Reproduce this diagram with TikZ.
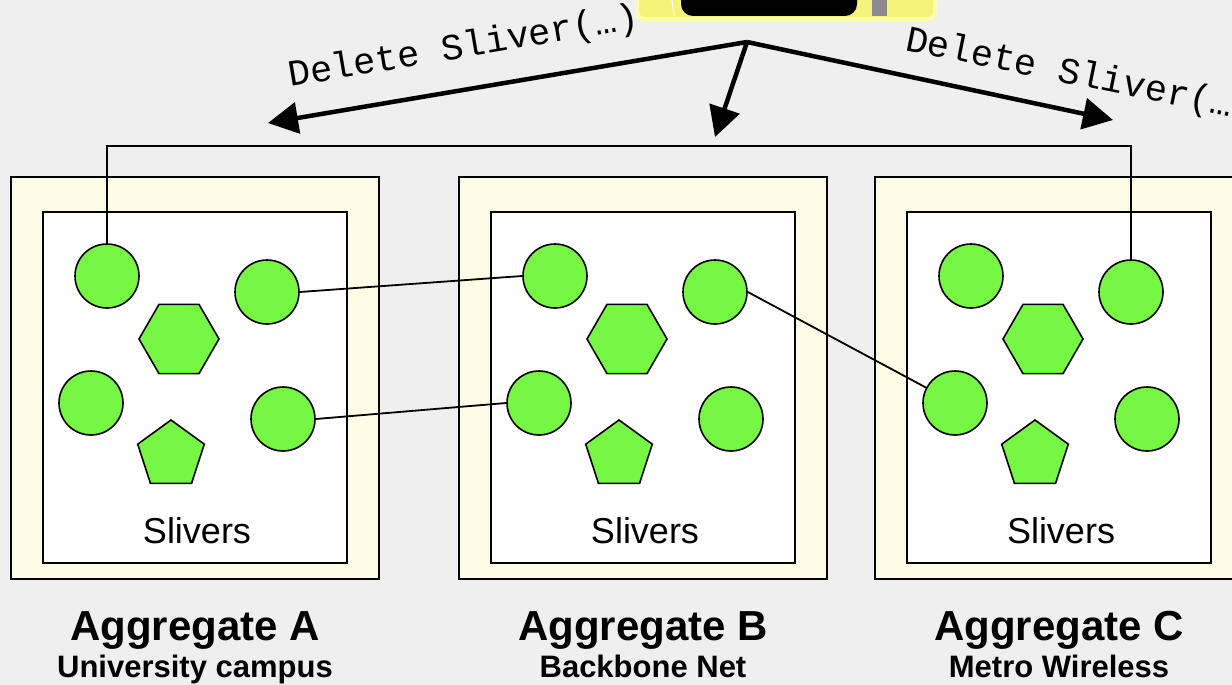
\documentclass[tikz,border=0pt]{standalone}
\usepackage{fontspec}
\setmainfont{Liberation Sans}
\newfontfamily\codefont{Liberation Mono}
\usetikzlibrary{shapes.geometric,arrows.meta}
\definecolor{slivergreen}{RGB}{118,247,67}
\definecolor{aggcream}{RGB}{255,252,229}
\definecolor{backdrop}{RGB}{239,239,239}
\definecolor{amyellow}{RGB}{245,243,122}
\definecolor{amrim}{RGB}{250,250,185}
\begin{document}
\begin{tikzpicture}[x=1pt,y=-1pt,
  sliver/.style={circle,draw,line width=1.6pt,fill=slivergreen,inner sep=0pt,minimum size=64pt},
  hexsliver/.style={regular polygon,regular polygon sides=6,draw,line width=1.6pt,fill=slivergreen,inner sep=0pt,minimum size=80pt},
  pentsliver/.style={regular polygon,regular polygon sides=5,draw,line width=1.6pt,fill=slivergreen,inner sep=0pt,minimum size=70pt},
  aggbox/.style={draw,line width=2pt,fill=aggcream,minimum width=368pt,minimum height=402pt,inner sep=0pt},
  sliverbox/.style={draw,line width=2pt,fill=white,minimum width=304pt,minimum height=351pt,inner sep=0pt},
  call/.style={line width=4.5pt,-{Triangle[length=30pt,width=31pt]}},
  calltext/.style={font=\codefont\fontsize{37}{37}\selectfont,anchor=base west,inner sep=0pt},
  link/.style={line width=1.8pt}]
  \useasboundingbox (0,0) rectangle (1232,685);
  \clip (0,0) rectangle (1232,685);
  \fill[backdrop] (0,0) rectangle (1232,685);
  % aggregate manager, cut off at the top
  \fill[amrim,rounded corners=8pt] (635,-20) rectangle (937,21);
  \fill[amyellow,rounded corners=6pt] (639,-20) rectangle (933,17);
  \fill[black,rounded corners=12pt] (681,-20) rectangle (857,16);
  \draw[white,line width=1pt] (672,0) -- (674,16);
  \fill[black!45] (872,-5) rectangle (887,16);
  \foreach \g/\dx/\place in {A/0/University campus,B/448/Backbone Net,C/864/Metro Wireless}{
    \begin{scope}[xshift=\dx]
      \node[aggbox] (\g box) at (195,378) {};
      \node[sliverbox] (\g slv) at (195,387.5) {};
      \node[sliver] (\g1) at (107,276) {};
      \node[sliver] (\g2) at (267,292) {};
      \node[sliver] (\g3) at (91,403) {};
      \node[sliver] (\g4) at (283,419) {};
      \node[hexsliver] (\g hex) at (179,339) {};
      \node[pentsliver] (\g pent) at (171,455) {};
      \node[anchor=base,font=\fontsize{36}{36}\selectfont] (\g lbl) at (197,543) {Slivers};
      \node[anchor=base,font=\bfseries\fontsize{42}{42}\selectfont] (\g name) at (195,640) {Aggregate \g};
      \node[anchor=base,font=\bfseries\fontsize{31}{31}\selectfont] (\g site) at (195,677) {\place};
    \end{scope}
  }
  \coordinate (bus) at (0,146);
  \draw[link] (A1.north) -- (A1.north |- bus) -| (C2.north);
  \draw[link] (A2.east) -- (B1.west);
  \draw[link] (A4.east) -- (B3.west);
  \draw[link] (B2.east) -- (C3.152);
  \coordinate (fork) at (747,42);
  \coordinate (tipA) at (268,123);
  \coordinate (tipB) at (715,137);
  \coordinate (tipC) at (1113,120);
  \draw[call] (fork) -- (tipA);
  \draw[call] (fork) -- (tipB);
  \draw[call] (fork) -- (tipC);
  \node[calltext,rotate=9.6] (delA) at (290,87) {Delete Sliver(…)};
  \node[calltext,rotate=-11.5] (delC) at (904,50) {Delete Sliver(…)};
\end{tikzpicture}
\end{document}
